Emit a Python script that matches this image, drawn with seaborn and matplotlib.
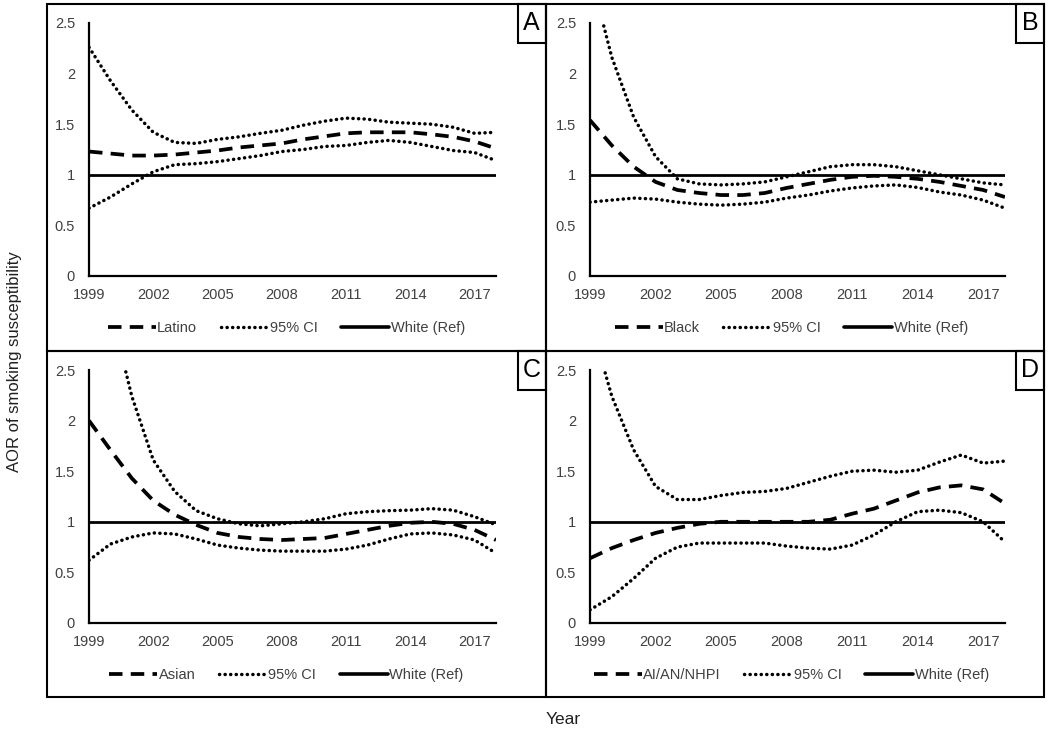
import matplotlib
matplotlib.use("Agg")
import matplotlib.pyplot as plt
from matplotlib.patches import Rectangle
from matplotlib.lines import Line2D
import seaborn as sns
import numpy as np
import pandas as pd

sns.set_style("white")
plt.rcParams["font.family"] = ["Liberation Sans", "DejaVu Sans"]

years = list(range(1999, 2019))
year_ticks = [1999, 2002, 2005, 2008, 2011, 2014, 2017]
y_ticks = [0, 0.5, 1, 1.5, 2, 2.5]
y_tick_labels = ["0", "0.5", "1", "1.5", "2", "2.5"]

panel_letters = ["A", "B", "C", "D"]
group_names = ["Latino", "Black", "Asian", "AI/AN/NHPI"]

# Point estimates (AOR vs White)
latino = [1.23, 1.21, 1.19, 1.19, 1.20, 1.22, 1.24, 1.27, 1.29, 1.31, 1.35, 1.38, 1.41, 1.42, 1.42, 1.42, 1.40, 1.375, 1.33, 1.26]
black = [1.54, 1.29, 1.08, 0.93, 0.85, 0.82, 0.80, 0.80, 0.82, 0.87, 0.91, 0.95, 0.98, 0.99, 0.98, 0.96, 0.93, 0.89, 0.85, 0.78]
asian = [2.00, 1.71, 1.43, 1.21, 1.07, 0.97, 0.89, 0.85, 0.83, 0.82, 0.83, 0.84, 0.88, 0.92, 0.96, 0.99, 1.00, 0.98, 0.92, 0.82]
aian = [0.64, 0.74, 0.82, 0.89, 0.94, 0.98, 1.00, 1.00, 1.00, 1.00, 1.00, 1.02, 1.08, 1.13, 1.21, 1.29, 1.34, 1.36, 1.32, 1.18]

# Upper 95% CI
latino_hi = [2.26, 1.93, 1.64, 1.42, 1.32, 1.31, 1.35, 1.375, 1.41, 1.44, 1.49, 1.53, 1.56, 1.55, 1.52, 1.51, 1.50, 1.47, 1.41, 1.42]
black_hi = [3.00, 2.16, 1.57, 1.18, 0.96, 0.91, 0.90, 0.91, 0.93, 0.98, 1.03, 1.08, 1.10, 1.10, 1.08, 1.04, 1.00, 0.96, 0.92, 0.90]
asian_hi = [4.20, 3.10, 2.24, 1.61, 1.30, 1.11, 1.03, 0.98, 0.96, 0.98, 1.00, 1.03, 1.08, 1.10, 1.11, 1.115, 1.13, 1.115, 1.05, 0.97]
aian_hi = [3.00, 2.24, 1.71, 1.35, 1.22, 1.22, 1.26, 1.29, 1.30, 1.33, 1.39, 1.45, 1.50, 1.51, 1.49, 1.51, 1.59, 1.66, 1.58, 1.60]

# Lower 95% CI
latino_lo = [0.67, 0.78, 0.91, 1.03, 1.10, 1.11, 1.13, 1.16, 1.19, 1.23, 1.25, 1.28, 1.29, 1.32, 1.34, 1.32, 1.28, 1.24, 1.22, 1.14]
black_lo = [0.73, 0.75, 0.77, 0.76, 0.73, 0.71, 0.70, 0.71, 0.73, 0.77, 0.80, 0.84, 0.87, 0.89, 0.90, 0.875, 0.83, 0.80, 0.75, 0.67]
asian_lo = [0.62, 0.78, 0.85, 0.89, 0.88, 0.83, 0.77, 0.74, 0.72, 0.71, 0.71, 0.71, 0.73, 0.77, 0.83, 0.88, 0.89, 0.87, 0.82, 0.69]
aian_lo = [0.13, 0.26, 0.44, 0.64, 0.75, 0.79, 0.79, 0.79, 0.79, 0.76, 0.74, 0.73, 0.77, 0.87, 1.00, 1.10, 1.115, 1.09, 1.00, 0.80]

white_ref = [1.0] * len(years)

estimates = [latino, black, asian, aian]
uppers = [latino_hi, black_hi, asian_hi, aian_hi]
lowers = [latino_lo, black_lo, asian_lo, aian_lo]

W, H = 1050, 731
fig = plt.figure(figsize=(W / 100, H / 100), dpi=100)

def fx(px):
    return px / W

def fy(py):
    return 1 - py / H

# axes positions in pixels: (left, right, top, bottom)
axes_px = [(89, 496, 23, 276), (590, 1005, 23, 276),
           (89, 496, 370, 623), (590, 1005, 370, 623)]
# panel boxes (left, right, top, bottom)
box_px = [(47, 545.5, 4, 350.5), (545.5, 1044, 4, 350.5),
          (47, 545.5, 350.5, 697), (545.5, 1044, 350.5, 697)]

dash_style = (0, (3.6, 2.2))
dot_style = (0, (0.05, 1.55))
dot_lw = 2.5
tick_color = "#404040"

for i in range(4):
    l, r, t, b = axes_px[i]
    ax = fig.add_axes([fx(l), fy(b), fx(r - l), (b - t) / H])
    df = pd.DataFrame({"Year": years, "est": estimates[i], "hi": uppers[i],
                       "lo": lowers[i], "ref": white_ref})
    sns.lineplot(data=df, x="Year", y="hi", ax=ax, color="black", lw=dot_lw,
                 linestyle=dot_style, dash_capstyle="round")
    sns.lineplot(data=df, x="Year", y="lo", ax=ax, color="black", lw=dot_lw,
                 linestyle=dot_style, dash_capstyle="round")
    sns.lineplot(data=df, x="Year", y="ref", ax=ax, color="black", lw=2.0)
    sns.lineplot(data=df, x="Year", y="est", ax=ax, color="black", lw=2.7,
                 linestyle=dash_style)
    ax.set_xlim(1999, 2018)
    ax.set_ylim(0, 2.5)
    ax.set_xticks(year_ticks)
    ax.set_xticklabels([str(y) for y in year_ticks])
    ax.set_yticks(y_ticks)
    ax.set_yticklabels(y_tick_labels)
    ax.tick_params(axis="both", length=0, labelsize=10.5, colors=tick_color)
    ax.tick_params(axis="y", pad=10)
    ax.tick_params(axis="x", pad=9)
    ax.set_xlabel("")
    ax.set_ylabel("")
    for s in ["top", "right"]:
        ax.spines[s].set_visible(False)
    for s in ["left", "bottom"]:
        ax.spines[s].set_color("black")
        ax.spines[s].set_linewidth(1.6)
    ax.patch.set_alpha(0)

    handles = [
        Line2D([], [], color="black", lw=2.7, linestyle=dash_style),
        Line2D([], [], color="black", lw=dot_lw, linestyle=dot_style, dash_capstyle="round"),
        Line2D([], [], color="black", lw=2.6),
    ]
    labels = [group_names[i], "95% CI", "White (Ref)"]
    ax.legend(handles, labels, loc="center", bbox_to_anchor=(0.485, -0.205),
              ncol=3, frameon=False, fontsize=10.5, handlelength=3.3,
              handletextpad=0.1, columnspacing=1.6, labelcolor=tick_color)

    # panel box
    bl, br, bt, bb = box_px[i]
    fig.add_artist(Rectangle((fx(bl), fy(bb)), fx(br - bl), (bb - bt) / H,
                             transform=fig.transFigure, fill=False,
                             edgecolor="black", lw=1.5))
    # letter box
    lw_box, lh_box = 28, 39
    fig.add_artist(Rectangle((fx(br - lw_box), fy(bt + lh_box)), fx(lw_box), lh_box / H,
                             transform=fig.transFigure, fill=False,
                             edgecolor="black", lw=1.5))
    fig.text(fx(br - lw_box / 2), fy(bt + lh_box / 2), panel_letters[i],
             ha="center", va="center", fontsize=18, color="black")

fig.text(fx(15), fy(362), "AOR of smoking susceptibility", rotation=90,
         ha="center", va="center", fontsize=12, color="#202020")
fig.text(fx(563), fy(719), "Year", ha="center", va="center", fontsize=12.5,
         color="#202020")

fig.savefig("out.png", dpi=100, facecolor="white")
